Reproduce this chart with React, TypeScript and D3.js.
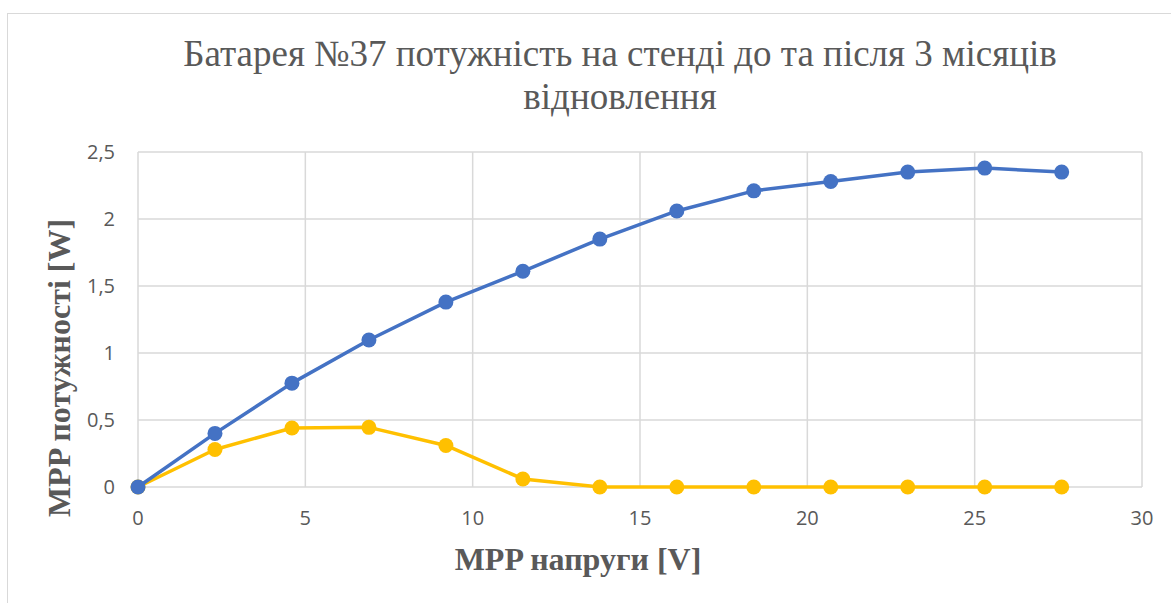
import * as d3 from "d3";
import { useRef, useEffect } from "react";

// voltage points (V)
const voltage = [0, 2.3, 4.6, 6.9, 9.2, 11.5, 13.8, 16.1, 18.4, 20.7, 23.0, 25.3, 27.6];
// power after recovery (W)
const powerAfter = [0, 0.4, 0.775, 1.097, 1.38, 1.61, 1.85, 2.06, 2.21, 2.28, 2.35, 2.38, 2.35];
// power before recovery (W)
const powerBefore = [0, 0.28, 0.44, 0.445, 0.31, 0.06, 0, 0, 0, 0, 0, 0, 0];

const xTicks = [0, 5, 10, 15, 20, 25, 30];
const yTicks = [0, 0.5, 1, 1.5, 2, 2.5];

const titleLines = ["Батарея №37 потужність на стенді до та після 3 місяців", "відновлення"];
const xTitle = "MPP напруги [V]";
const yTitle = "MPP потужності [W]";

const serif = "'Liberation Serif', 'Times New Roman', Times, serif";

export default function App() {
  const svgRef = useRef<SVGSVGElement>(null);

  useEffect(() => {
    const svg = d3.select(svgRef.current);
    svg.selectAll("*").remove();

    const width = 1171;
    const height = 603;
    const margin = { top: 152, right: 29, bottom: 116, left: 138 };
    const innerW = width - margin.left - margin.right;
    const innerH = height - margin.top - margin.bottom;

    // white background and chart border
    svg.append("rect").attr("width", width).attr("height", height).attr("fill", "#fff");
    svg.append("rect").attr("x", 7.5).attr("y", 13.5).attr("width", width).attr("height", height)
      .attr("fill", "none").attr("stroke", "#d9d9d9").attr("stroke-width", 1);

    const x = d3.scaleLinear().domain([0, 30]).range([0, innerW]);
    const y = d3.scaleLinear().domain([0, 2.5]).range([innerH, 0]);

    const g = svg.append("g").attr("transform", `translate(${margin.left},${margin.top})`);

    // grid
    g.append("g").selectAll("line").data(yTicks).join("line")
      .attr("x1", 0).attr("x2", innerW)
      .attr("y1", d => y(d)).attr("y2", d => y(d))
      .attr("stroke", "#d9d9d9").attr("stroke-width", 1.5);
    g.append("g").selectAll("line").data(xTicks).join("line")
      .attr("x1", d => x(d)).attr("x2", d => x(d))
      .attr("y1", 0).attr("y2", innerH)
      .attr("stroke", "#d9d9d9").attr("stroke-width", 1.5);

    const fmt = (v: number) => String(v).replace(".", ",");

    // y tick labels
    g.append("g").selectAll("text").data(yTicks).join("text")
      .attr("x", -23).attr("y", d => y(d)).attr("dy", "0.36em")
      .attr("text-anchor", "end").attr("fill", "#595959")
      .style("font-family", "'Open Sans', sans-serif").style("font-size", "20px")
      .text(d => fmt(d));

    // x tick labels
    g.append("g").selectAll("text").data(xTicks).join("text")
      .attr("x", d => x(d)).attr("y", innerH + 38)
      .attr("text-anchor", "middle").attr("fill", "#595959")
      .style("font-family", "'Open Sans', sans-serif").style("font-size", "20px")
      .text(d => fmt(d));

    const series = [
      { values: powerAfter, color: "#4472C4" },
      { values: powerBefore, color: "#FFC000" },
    ];

    // draw yellow first so blue sits on top at origin
    [series[1], series[0]].forEach(s => {
      const pts = voltage.map((v, i) => [v, s.values[i]] as [number, number]);
      const line = d3.line<[number, number]>().x(d => x(d[0])).y(d => y(d[1]));
      g.append("path").datum(pts).attr("fill", "none").attr("stroke", s.color)
        .attr("stroke-width", 3.5).attr("stroke-linejoin", "round").attr("d", line);
      g.append("g").selectAll("circle").data(pts).join("circle")
        .attr("cx", d => x(d[0])).attr("cy", d => y(d[1])).attr("r", 7.5)
        .attr("fill", s.color);
    });

    // title
    svg.append("g").selectAll("text").data(titleLines).join("text")
      .attr("x", 620).attr("y", (_, i) => 66 + i * 43)
      .attr("text-anchor", "middle").attr("fill", "#595959")
      .attr("font-family", serif).attr("font-size", 37)
      .text(d => d);

    // x axis title
    svg.append("text").attr("x", 578).attr("y", 570)
      .attr("text-anchor", "middle").attr("fill", "#595959")
      .attr("font-family", serif).attr("font-size", 32).attr("font-weight", "bold")
      .text(xTitle);

    // y axis title
    svg.append("text").attr("transform", "translate(70,368) rotate(-90)")
      .attr("text-anchor", "middle").attr("fill", "#595959")
      .attr("font-family", serif).attr("font-size", 32).attr("font-weight", "bold")
      .text(yTitle);
  }, []);

  return (
    <svg ref={svgRef} width={1171} height={603} style={{ position: "absolute", left: 0, top: 0 }} />
  );
}
